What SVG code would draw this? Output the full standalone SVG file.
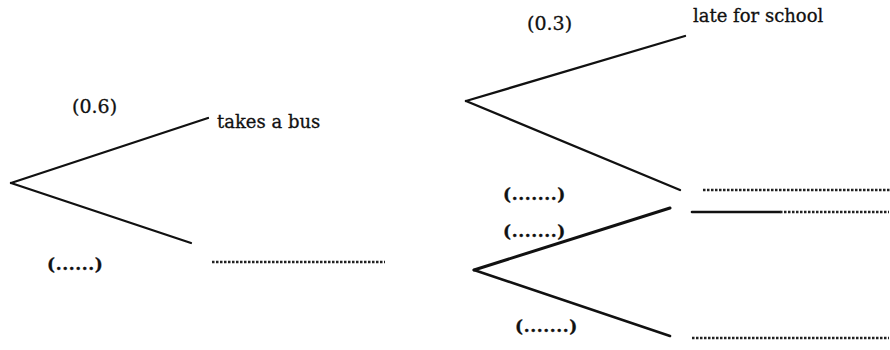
<svg xmlns="http://www.w3.org/2000/svg" width="890" height="350" viewBox="0 0 890 350">
<style>
.br{stroke:#111;stroke-width:2.3;fill:none;stroke-linecap:round}
.blank{stroke:#222;stroke-width:2.4;stroke-dasharray:2.5 1.5;fill:none}
text{font-family:"DejaVu Serif","Liberation Serif",serif;fill:#111;stroke:#111;stroke-width:0.3}
.t{font-size:18px}
.p{font-size:19px}
.q{font-size:17px;font-weight:bold;letter-spacing:0.6px}
</style>
<rect width="890" height="350" fill="#fff"/>
<g id="connectors">
<line class="br" x1="11" y1="183" x2="208" y2="118"/>
<line class="br" x1="11" y1="183" x2="191" y2="243"/>
<line class="br" x1="466" y1="101" x2="685" y2="36"/>
<line class="br" x1="466" y1="101" x2="680" y2="190"/>
<line class="br" x1="474" y1="270" x2="670" y2="208" style="stroke-width:3"/>
<line class="br" x1="474" y1="270" x2="670" y2="336" style="stroke-width:2.6"/>
</g>
<g id="root1"><text class="p" x="72" y="113">(0.6)</text></g>
<g id="bus"><text class="t" x="217" y="128">takes a bus</text></g>
<g id="p1b"><text class="q" x="47" y="270">(......)</text></g>
<g id="notbus"><line class="blank" x1="212" y1="262" x2="385" y2="262"/></g>
<g id="p2a"><text class="p" x="527" y="30">(0.3)</text></g>
<g id="late"><text class="t" x="693" y="22">late for school</text></g>
<g id="p2b"><text class="q" x="503" y="200">(.......)</text></g>
<g id="notlate"><line class="blank" x1="703" y1="190" x2="890" y2="190"/></g>
<g id="p3a"><text class="q" x="503" y="237">(.......)</text></g>
<g id="blank3a"><line class="br" x1="692" y1="212" x2="780" y2="212" style="stroke-width:2.6"/><line class="blank" x1="780" y1="212" x2="889" y2="212"/></g>
<g id="p3b"><text class="q" x="515" y="332">(.......)</text></g>
<g id="blank3b"><line class="blank" x1="692" y1="338" x2="889" y2="338"/></g>
</svg>
